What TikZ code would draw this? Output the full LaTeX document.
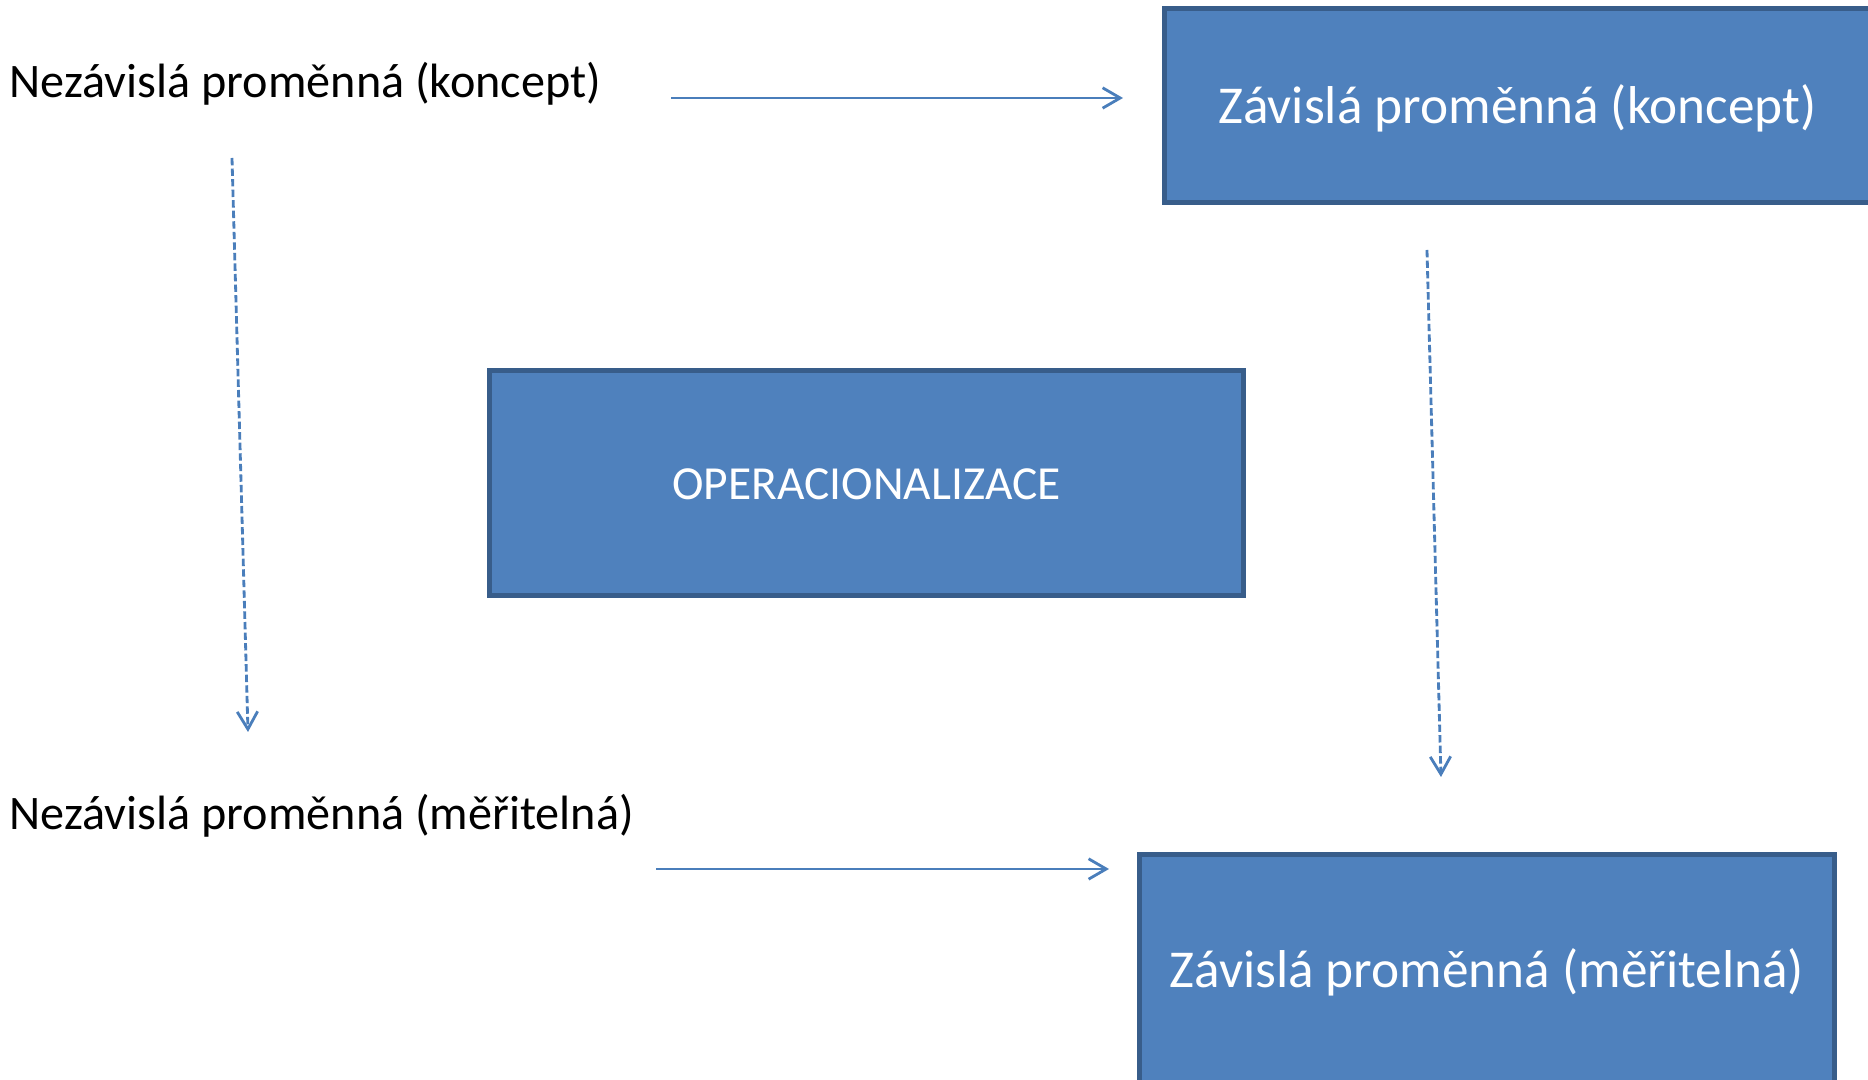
\documentclass[tikz,border=0pt]{standalone}
\usepackage{fontspec}
\setmainfont{Carlito}
\usetikzlibrary{arrows.meta}
\definecolor{vypln}{HTML}{4F81BD}
\definecolor{okraj}{HTML}{385D8A}
\definecolor{sipky}{HTML}{4A7EBB}
\begin{document}
\begin{tikzpicture}[x=0.01cm,y=-0.01cm,
	popis/.style={inner sep=0pt,anchor=base west,font=\fontsize{13.7pt}{16pt}\selectfont},
	blok/.style={draw=okraj,fill=vypln,line width=1.4pt,text=white,inner sep=0pt,text height=10pt,text depth=0pt},
	sipka/.style={draw=sipky,line width=0.8pt,-{Straight Barb[length=5pt,width=5.8pt,line width=0.8pt]}},
	carkovana/.style={sipka,dash pattern=on 2.1pt off 0.9pt}]
	\useasboundingbox (0,0) rectangle (1868,1080);
	\node[popis] (nkon) at (9,98) {Nezávislá proměnná (koncept)};
	\node[popis] (nmer) at (9,830) {Nezávislá proměnná (měřitelná)};
	\node[blok,minimum width=7.06cm,minimum height=1.94cm,font=\fontsize{15.15pt}{18pt}\selectfont] (zkon) at (1517.5,105.5) {Závislá proměnná (koncept)};
	\node[blok,minimum width=7.54cm,minimum height=2.25cm,text height=9.3pt,font=\fontsize{13.5pt}{16pt}\selectfont] (oper) at (866.5,483) {OPERACIONALIZACE};
	\node[blok,minimum width=6.95cm,minimum height=2.31cm,font=\fontsize{15.15pt}{18pt}\selectfont] (zmer) at (1487,970) {Závislá proměnná (měřitelná)};
	\coordinate (a1) at (671,98);
	\coordinate (a2) at (1123,98);
	\coordinate (b1) at (656,869);
	\coordinate (b2) at (1109,869);
	\coordinate (c1) at (232,158);
	\coordinate (c2) at (248,732);
	\coordinate (d1) at (1427,250);
	\coordinate (d2) at (1441,777);
	\draw[sipka] (a1) -- (a2);
	\draw[sipka] (b1) -- (b2);
	\draw[carkovana] (c1) -- (c2);
	\draw[carkovana] (d1) -- (d2);
\end{tikzpicture}
\end{document}
